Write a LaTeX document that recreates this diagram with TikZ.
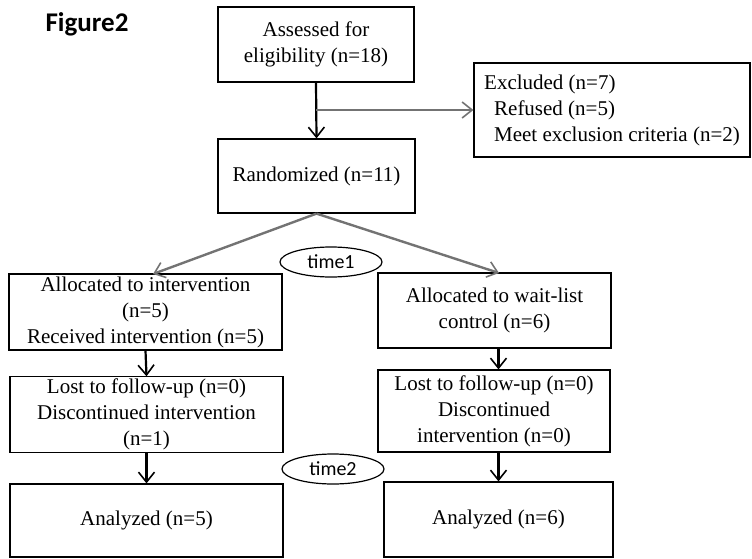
\documentclass[tikz,border=0pt]{standalone}
\usepackage{fontspec}
\setmainfont{Liberation Serif}
\newfontfamily\calib{Carlito}
\usetikzlibrary{arrows.meta,shapes.geometric}
\begin{document}
\begin{tikzpicture}[x=1pt,y=-1pt,
  box/.style={draw=black, line width=1.2pt, align=center, inner sep=2pt,
    font=\fontsize{21}{26}\selectfont},
  oval/.style={draw=black, line width=1.2pt, ellipse, minimum width=102pt, minimum height=30pt,
    inner sep=0pt, font=\calib\fontsize{20}{24}\selectfont},
  varrow/.style={line width=2.2pt, draw=black,
    -{Straight Barb[length=10pt,width=16pt,line width=1.6pt]}},
  garrow/.style={line width=2.4pt, draw=black!55,
    -{Straight Barb[length=10pt,width=16pt,line width=1.6pt]}}]
\useasboundingbox (0,0) rectangle (752,559);

\node[font=\calib\bfseries\fontsize{27}{30}\selectfont] (fig) at (87,24) {Figure2};

\node[box, minimum width=196pt, minimum height=75pt] (assess) at (316,44.5)
  {Assessed for\\eligibility (n=18)};
\node[box, minimum width=276pt, minimum height=94pt, align=left] (excl) at (612,110)
  {Excluded (n=7)\\\hspace*{10pt}Refused (n=5)\\\hspace*{10pt}Meet exclusion criteria (n=2)};
\node[box, minimum width=197pt, minimum height=74pt] (rand) at (316.5,176)
  {Randomized (n=11)};

\node[box, minimum width=273pt, minimum height=76pt] (allocL) at (145.5,312)
  {Allocated to intervention\\(n=5)\\Received intervention (n=5)};
\node[box, minimum width=233pt, minimum height=75pt] (allocR) at (494.5,310.5)
  {Allocated to wait-list\\control (n=6)};

\node[box, minimum width=273pt, minimum height=75pt] (lostL) at (146.5,414.5)
  {Lost to follow-up (n=0)\\Discontinued intervention\\(n=1)};
\node[box, minimum width=232pt, minimum height=82pt] (lostR) at (494,411)
  {Lost to follow-up (n=0)\\Discontinued\\intervention (n=0)};

\node[box, minimum width=273pt, minimum height=73pt] (anaL) at (146.5,520.5)
  {Analyzed (n=5)};
\node[box, minimum width=229pt, minimum height=75pt] (anaR) at (498.5,519.5)
  {Analyzed (n=6)};

\node[oval] (t1) at (331,262) {time1};
\node[oval] (t2) at (333,469) {time2};

\coordinate (branch) at (316,110);
\coordinate (tipL) at (153,274);
\coordinate (tipR) at (499,273);

\draw[varrow] (assess.south) -- (rand.north);
\draw[garrow] (branch) -- (excl.west);
\draw[garrow] (rand.south) -- (tipL);
\draw[garrow] (rand.south) -- (tipR);

\draw[varrow] (allocL.south) -- (lostL.north);
\draw[varrow] (lostL.south) -- (anaL.north);
\draw[varrow] (allocR.south -| anaR.north) -- (lostR.north -| anaR.north);
\draw[varrow] (lostR.south -| anaR.north) -- (anaR.north);
\end{tikzpicture}
\end{document}
